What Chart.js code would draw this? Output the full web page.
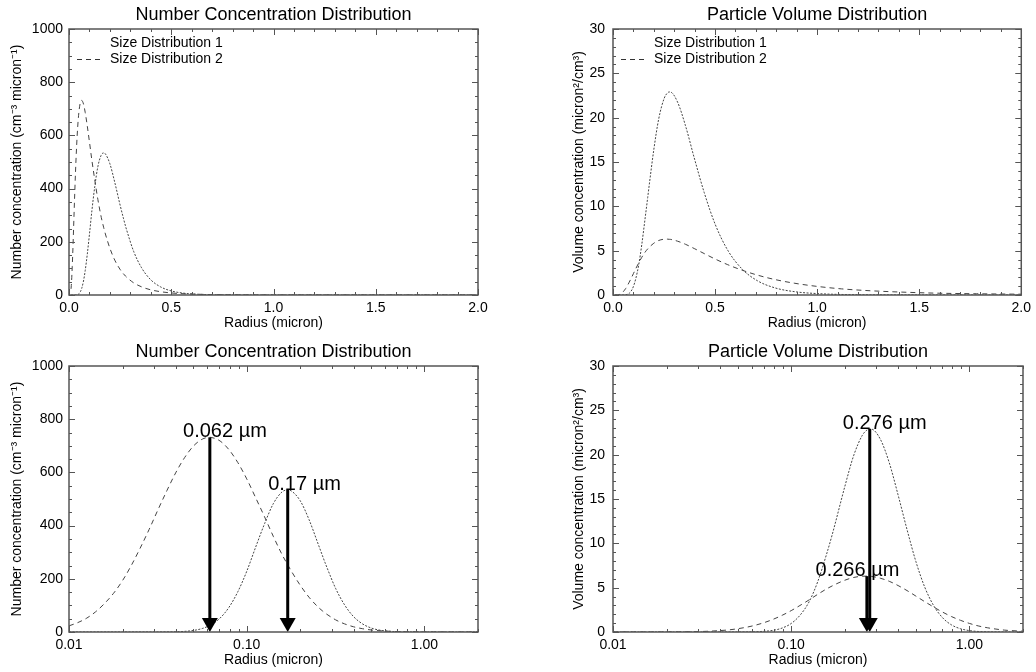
<!DOCTYPE html>
<html>
<head>
<meta charset="utf-8">
<title>Size distributions</title>
<script src="https://cdn.jsdelivr.net/npm/chart.js@4.4.1/dist/chart.umd.min.js"></script>
<style>
  body { margin: 0; background: #fff; overflow: hidden; }
  canvas { position: absolute; }
</style>
</head>
<body>
<canvas id="numLin" width="518" height="336" style="left:0;top:0"></canvas>
<canvas id="volLin" width="518" height="336" style="left:518px;top:0"></canvas>
<canvas id="numLog" width="518" height="336" style="left:0;top:337px"></canvas>
<canvas id="volLog" width="518" height="336" style="left:518px;top:337px"></canvas>
<script>
// radius in micron, shared by both size distributions
var radius = [0.0100, 0.0112, 0.0126, 0.0141, 0.0158, 0.0178, 0.0200, 0.0224, 0.0251, 0.0282,
  0.0316, 0.0355, 0.0398, 0.0447, 0.0501, 0.0562, 0.0620, 0.0631, 0.0708, 0.0794,
  0.0891, 0.100, 0.112, 0.126, 0.141, 0.158, 0.170, 0.178, 0.200, 0.224,
  0.251, 0.266, 0.276, 0.282, 0.316, 0.355, 0.398, 0.447, 0.501, 0.562,
  0.631, 0.708, 0.794, 0.891, 1.00, 1.12, 1.26, 1.41, 1.58, 1.78, 2.00];

// number concentration (cm-3 micron-1)
var number1 = [0, 0, 0, 0, 0, 0, 0, 0, 0.01, 0.03,
  0.10, 0.31, 0.90, 2.37, 5.80, 13.1, 24.5, 27.2, 52.3, 92.6,
  151.4, 228.2, 317.4, 407.3, 482.2, 526.6, 534.1, 530.5, 493.1, 422.8,
  334.5, 288.8, 260.0, 244.1, 164.3, 102.1, 58.5, 30.9, 15.1, 6.78,
  2.82, 1.08, 0.38, 0.12, 0.04, 0.01, 0, 0, 0, 0, 0];
var number2 = [23.1, 35.3, 52.4, 75.7, 106.3, 145.3, 193.1, 249.9, 314.3, 384.8,
  458.2, 530.7, 598.0, 655.5, 698.9, 725.0, 731.8, 731.5, 718.1, 685.7,
  636.9, 575.6, 506.0, 432.7, 359.9, 291.2, 252.6, 229.3, 175.6, 130.8,
  94.8, 79.9, 71.3, 66.8, 45.8, 30.6, 19.8, 12.5, 7.69, 4.59,
  2.67, 1.51, 0.83, 0.44, 0.23, 0.12, 0.06, 0.03, 0.01, 0.01, 0];

// volume concentration (micron2/cm3)
var volume1 = [0, 0, 0, 0, 0, 0, 0, 0, 0, 0,
  0, 0, 0, 0, 0, 0.01, 0.02, 0.03, 0.08, 0.19,
  0.45, 0.96, 1.88, 3.40, 5.69, 8.78, 10.99, 12.50, 16.41, 19.87,
  22.20, 22.77, 22.90, 22.89, 21.77, 19.10, 15.46, 11.54, 7.95, 5.05,
  2.96, 1.60, 0.80, 0.37, 0.16, 0.06, 0.02, 0.01, 0, 0, 0];
var volume2 = [0, 0, 0, 0, 0, 0, 0.01, 0.01, 0.02, 0.04,
  0.06, 0.10, 0.16, 0.24, 0.37, 0.54, 0.73, 0.77, 1.07, 1.44,
  1.89, 2.41, 2.99, 3.62, 4.25, 4.86, 5.20, 5.40, 5.84, 6.15,
  6.29, 6.30, 6.28, 6.27, 6.07, 5.72, 5.24, 4.67, 4.05, 3.42,
  2.81, 2.24, 1.74, 1.32, 0.97, 0.69, 0.48, 0.33, 0.21, 0.14, 0.09];

// modes marked with arrows on the log plots
var numberModes = [0.062, 0.17];
var numberModePeaks = [731.8, 534.1];
var volumeModes = [0.276, 0.266];
var volumeModePeaks = [22.9, 6.3];

var numberTicks = [0, 200, 400, 600, 800, 1000];
var volumeTicks = [0, 5, 10, 15, 20, 25, 30];
var linearTicks = [0, 0.5, 1.0, 1.5, 2.0];
var logTicks = [0.01, 0.1, 1];

var FONT = "'Liberation Sans', Arial, Helvetica, sans-serif";

function stepTicks(lo, hi, step) {
  var out = [];
  for (var v = lo; v <= hi + 1e-9; v += step) out.push(+v.toFixed(6));
  return out;
}
var logMinor = [];
[0.01, 0.1, 1].forEach(function(d) {
  for (var m = 2; m <= 9; m++) if (d * m <= 2.0001) logMinor.push(+(d * m).toFixed(4));
});

function points(ys) {
  return radius.map(function(r, i) { return {x: r, y: ys[i]}; });
}

// IDL style box, inward ticks, legend and arrows
var idlFrame = {
  id: 'idlFrame',
  afterDatasetsDraw: function(chart, args, opts) {
    var ctx = chart.ctx, xs = chart.scales.x, ys = chart.scales.y;
    (opts.arrows || []).forEach(function(a) {
      var px = xs.getPixelForValue(a.x);
      var top = ys.getPixelForValue(a.y);
      var base = ys.getPixelForValue(0);
      ctx.save();
      ctx.strokeStyle = '#000';
      ctx.fillStyle = '#000';
      ctx.lineWidth = 3;
      ctx.beginPath();
      ctx.moveTo(px, top);
      ctx.lineTo(px, base - 12);
      ctx.stroke();
      ctx.beginPath();
      ctx.moveTo(px - 8, base - 14);
      ctx.lineTo(px + 8, base - 14);
      ctx.lineTo(px, base);
      ctx.closePath();
      ctx.fill();
      ctx.font = '20px ' + FONT;
      ctx.textAlign = 'left';
      ctx.textBaseline = 'alphabetic';
      ctx.fillText(a.text, xs.getPixelForValue(a.textX), top);
      ctx.restore();
    });
  },
  afterDraw: function(chart, args, opts) {
    var ctx = chart.ctx, a = chart.chartArea, xs = chart.scales.x, ys = chart.scales.y;
    ctx.save();
    ctx.strokeStyle = '#555';
    ctx.lineWidth = 1;
    function xTick(v, len) {
      var p = Math.round(xs.getPixelForValue(v)) + 0.5;
      ctx.beginPath();
      ctx.moveTo(p, a.bottom); ctx.lineTo(p, a.bottom - len);
      ctx.moveTo(p, a.top); ctx.lineTo(p, a.top + len);
      ctx.stroke();
    }
    function yTick(v, len) {
      var p = Math.round(ys.getPixelForValue(v)) + 0.5;
      ctx.beginPath();
      ctx.moveTo(a.left, p); ctx.lineTo(a.left + len, p);
      ctx.moveTo(a.right, p); ctx.lineTo(a.right - len, p);
      ctx.stroke();
    }
    opts.xMinor.forEach(function(v) { xTick(v, 3); });
    opts.xMajor.forEach(function(v) { xTick(v, 6); });
    opts.yMinor.forEach(function(v) { yTick(v, 3); });
    opts.yMajor.forEach(function(v) { yTick(v, 6); });
    ctx.lineWidth = 1.5;
    ctx.strokeRect(a.left, a.top, a.right - a.left, a.bottom - a.top);

    if (opts.legend) {
      ctx.fillStyle = '#000';
      ctx.font = '14px ' + FONT;
      ctx.textAlign = 'left';
      ctx.textBaseline = 'middle';
      ctx.fillText('Size Distribution 1', a.left + 41, a.top + 14);
      ctx.fillText('Size Distribution 2', a.left + 41, a.top + 30);
      ctx.strokeStyle = '#333';
      ctx.lineWidth = 1;
      ctx.setLineDash([5, 4]);
      ctx.beginPath();
      ctx.moveTo(a.left + 8, a.top + 30.5);
      ctx.lineTo(a.left + 34, a.top + 30.5);
      ctx.stroke();
    }
    ctx.restore();
  }
};

function makePanel(id, cfg) {
  var left = cfg.right;
  new Chart(document.getElementById(id), {
    type: 'line',
    data: {
      datasets: [
        {label: 'Size Distribution 1', data: points(cfg.set1), borderColor: '#444',
         borderWidth: 1, borderDash: [2, 1.5], pointRadius: 0, cubicInterpolationMode: 'monotone'},
        {label: 'Size Distribution 2', data: points(cfg.set2), borderColor: '#444',
         borderWidth: 1, borderDash: [5, 4], pointRadius: 0, cubicInterpolationMode: 'monotone'}
      ]
    },
    options: {
      responsive: false,
      animation: false,
      events: [],
      layout: {padding: {left: 0, right: left ? 13 : 40, top: 0, bottom: 0}},
      plugins: {
        legend: {display: false},
        tooltip: {enabled: false},
        title: {
          display: true, text: cfg.title, fullSize: false, color: '#000',
          font: {family: FONT, size: 18, weight: 'normal'},
          padding: {top: 4, bottom: 3.4}
        },
        idlFrame: {
          legend: cfg.legend, arrows: cfg.arrows || [],
          xMajor: cfg.log ? logTicks : linearTicks,
          xMinor: cfg.log ? logMinor : stepTicks(0, 2, 0.1),
          yMajor: cfg.yTicks,
          yMinor: stepTicks(0, cfg.yTicks[cfg.yTicks.length - 1], cfg.yMinorStep)
        }
      },
      scales: {
        x: {
          type: cfg.log ? 'logarithmic' : 'linear',
          min: cfg.log ? 0.01 : 0, max: 2,
          grid: {display: false, drawTicks: false},
          border: {display: false},
          afterBuildTicks: function(s) {
            s.ticks = (cfg.log ? logTicks : linearTicks).map(function(v) { return {value: v}; });
          },
          afterFit: function(s) { s.height = 41; },
          ticks: {
            color: '#000', padding: 5, maxRotation: 0, autoSkip: false,
            font: {family: FONT, size: 14},
            callback: function(v) { return cfg.log ? Number(v).toFixed(2) : Number(v).toFixed(1); }
          },
          title: {
            display: true, text: 'Radius (micron)', color: '#000',
            font: {family: FONT, size: 14}, padding: {top: 0, bottom: 4}
          }
        },
        y: {
          type: 'linear', min: 0, max: cfg.yTicks[cfg.yTicks.length - 1],
          grid: {display: false, drawTicks: false},
          border: {display: false},
          afterBuildTicks: function(s) {
            s.ticks = cfg.yTicks.map(function(v) { return {value: v}; });
          },
          afterFit: function(s) { s.width = left ? 95 : 69; },
          ticks: {
            color: '#000', padding: left ? 8 : 6, autoSkip: false,
            font: {family: FONT, size: 14},
            callback: function(v) { return String(v); }
          },
          title: {
            display: true, text: cfg.yTitle, color: '#000',
            font: {family: FONT, size: 14}, padding: {top: left ? 53 : 9, bottom: 0}
          }
        }
      }
    },
    plugins: [idlFrame]
  });
}

var numberTitle = 'Number concentration (cm\u207B\u00B3 micron\u207B\u00B9)';
var volumeTitle = 'Volume concentration (micron\u00B2/cm\u00B3)';

makePanel('numLin', {title: 'Number Concentration Distribution', set1: number1, set2: number2,
  yTicks: numberTicks, yMinorStep: 50, yTitle: numberTitle, legend: true, log: false, right: false});
makePanel('volLin', {title: 'Particle Volume Distribution', set1: volume1, set2: volume2,
  yTicks: volumeTicks, yMinorStep: 1, yTitle: volumeTitle, legend: true, log: false, right: true});
makePanel('numLog', {title: 'Number Concentration Distribution', set1: number1, set2: number2,
  yTicks: numberTicks, yMinorStep: 50, yTitle: numberTitle, legend: false, log: true, right: false,
  arrows: [
    {x: numberModes[0], y: numberModePeaks[0], text: numberModes[0] + ' \u00B5m', textX: 0.0438},
    {x: numberModes[1], y: numberModePeaks[1], text: numberModes[1] + ' \u00B5m', textX: 0.132}
  ]});
makePanel('volLog', {title: 'Particle Volume Distribution', set1: volume1, set2: volume2,
  yTicks: volumeTicks, yMinorStep: 1, yTitle: volumeTitle, legend: false, log: true, right: true,
  arrows: [
    {x: volumeModes[0], y: volumeModePeaks[0], text: volumeModes[0] + ' \u00B5m', textX: 0.195},
    {x: volumeModes[1], y: volumeModePeaks[1], text: volumeModes[1] + ' \u00B5m', textX: 0.137}
  ]});
</script>
</body>
</html>
